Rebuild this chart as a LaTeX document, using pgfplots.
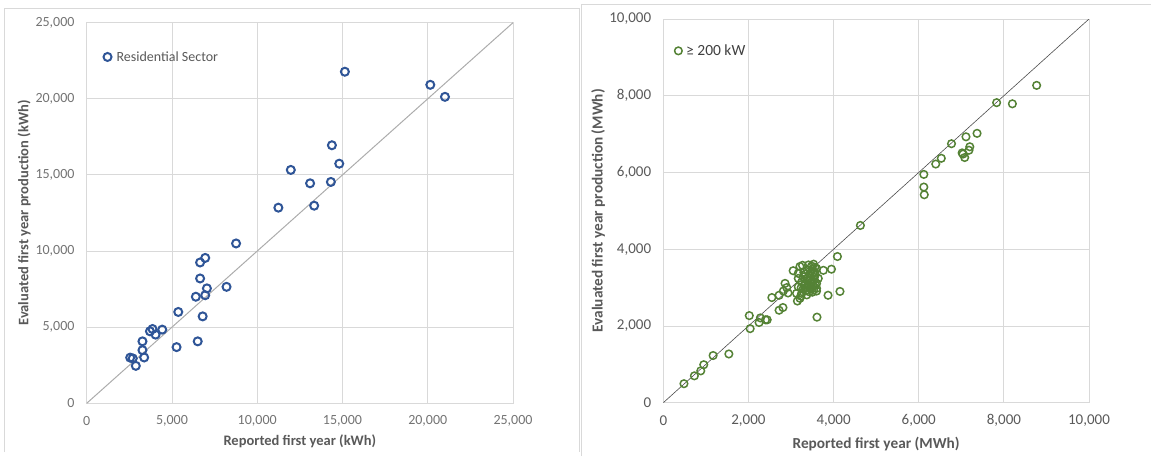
\documentclass[border=0pt]{standalone}
\usepackage{fontspec}
\setmainfont{Carlito}
\usepackage{pgfplots}
\pgfplotsset{compat=1.18}
\definecolor{resblue}{HTML}{2F5597}
\definecolor{biggreen}{HTML}{548235}
\definecolor{gridgray}{HTML}{D9D9D9}
\definecolor{txtgray}{HTML}{595959}
\definecolor{legtxt}{HTML}{404040}
\definecolor{framegray}{HTML}{D9D9D9}

\pgfplotstableread{
x y
2550 3000
2700 2950
2880 2460
3270 4070
3270 3490
3370 3010
3710 4730
3860 4880
4040 4510
4430 4840
5270 3690
5370 6000
6400 7000
6510 4070
6650 9250
6650 8200
6800 5710
6950 9550
6950 7100
7050 7550
8200 7650
8760 10500
11240 12850
11970 15330
13100 14450
13340 12980
14320 14540
14380 16950
14810 15740
15140 21780
20150 20920
21010 20130
}\residential

\pgfplotstableread{
x y
485 495
730 700
880 830
950 990
1170 1230
1540 1270
2020 2270
2040 1930
2250 2090
2280 2210
2400 2160
2440 2160
2550 2740
2720 2410
2810 2480
2720 2800
2820 2910
2860 3110
2900 3000
2930 2860
3050 3440
3150 2650
3270 3580
3610 2230
3870 2800
3760 3450
3950 3480
4090 3810
4150 2900
4630 4620
3210 3550
3410 3590
3530 3610
3600 3500
3170 3370
3170 3240
3290 3280
3450 3370
3570 3330
3640 3240
3330 3110
3490 3150
3600 3110
3170 3020
3290 2980
3450 2980
3600 2980
3130 2850
3250 2850
3370 2810
3530 2940
3600 2910
3210 2720
3300 3400
3380 3460
3500 3480
3550 3200
3400 3250
3250 3150
3420 3050
3520 3050
3350 2920
3240 3000
3480 3560
3560 3400
3230 2780
3500 2880
3340 3350
3460 3290
3520 3380
3380 3180
3460 3120
3540 3270
3310 3050
3480 3010
3580 3060
3360 2990
3430 2890
3560 3530
6120 5950
6120 5620
6130 5420
6400 6220
6530 6370
6770 6750
7020 6510
7040 6480
7080 6390
7110 6930
7180 6580
7200 6670
7370 7020
7830 7820
8200 7790
8770 8270
}\large

\pgfplotsset{
  myaxis/.style={
    scale only axis,
    anchor=south west,
    xmin=0, ymin=0,
    grid=major,
    grid style={gridgray, line width=0.9pt},
    axis line style={gridgray, line width=0.9pt},
    major tick length=0pt,
    tick style={draw=none},
    scaled ticks=false,
    /pgf/number format/1000 sep={,},
    /pgf/number format/assume math mode=true,
    tick label style={font=\fontsize{14}{16}\selectfont, text=txtgray},
    yticklabel style={anchor=east, inner sep=0pt, xshift=-12pt},
    xticklabel style={anchor=center, inner sep=0pt, yshift=-18pt},
    legend style={draw=none, fill=none, inner sep=0pt, anchor=west,
      /tikz/every even column/.append style={column sep=0pt}},
    legend image code/.code={\draw[#1] plot coordinates {(4.5pt,0pt)};},
    legend cell align=left,
  }
}

\begin{document}
\begin{tikzpicture}[x=1pt,y=1pt]
\path[use as bounding box] (0,0) rectangle (1151,456);
\draw[framegray, line width=0.9pt] (4,4) -- (4,448) -- (579,448) -- (579,4);
\draw[framegray, line width=0.9pt] (581,0) -- (581,452) -- (1151,452);

\begin{axis}[myaxis,
  at={(86.7pt,52.7pt)}, width=426.3pt, height=380.6pt,
  xmax=25000, ymax=25000,
  xtick={0,5000,10000,15000,20000,25000},
  ytick={0,5000,10000,15000,20000,25000},
  tick label style={text=black!55},
  xlabel={Reported first year (kWh)},
  ylabel={Evaluated first year production (kWh)},
  every axis x label/.style={at={(axis description cs:0.5,-0.101)}, anchor=center,
     font=\bfseries\fontsize{14.5}{16}\selectfont, text=txtgray},
  every axis y label/.style={at={(axis description cs:-0.147,0.5)}, rotate=90, anchor=center,
     font=\bfseries\fontsize{14.5}{16}\selectfont, text=txtgray},
  legend style={at={(axis description cs:0.039,0.91)}, font=\fontsize{14}{16}\selectfont, text=txtgray},
]
\addplot[only marks, mark=o, mark size=4pt, mark options={draw=resblue, line width=2pt}] table[x=x,y=y] {\residential};
\addlegendentry{\hspace{3pt}Residential Sector}
\addplot[gray!65, line width=1pt, forget plot] coordinates {(0,0) (25000,25000)};
\end{axis}

\begin{axis}[myaxis,
  at={(663.3pt,53.3pt)}, width=425.7pt, height=383.7pt,
  xmax=10000, ymax=10000,
  xtick={0,2000,4000,6000,8000,10000},
  ytick={0,2000,4000,6000,8000,10000},
  tick label style={font=\fontsize{15}{17}\selectfont},
  xlabel={Reported first year (MWh)},
  ylabel={Evaluated first year production (MWh)},
  every axis x label/.style={at={(axis description cs:0.5,-0.108)}, anchor=center,
     font=\bfseries\fontsize{15.3}{17}\selectfont, text=txtgray},
  every axis y label/.style={at={(axis description cs:-0.153,0.5)}, rotate=90, anchor=center,
     font=\bfseries\fontsize{15.3}{17}\selectfont, text=txtgray},
  legend style={at={(axis description cs:0.026,0.917)}, font=\fontsize{15.5}{17}\selectfont, text=legtxt},
]
\addplot[only marks, mark=o, mark size=3.8pt, mark options={draw=biggreen, line width=1.5pt}] table[x=x,y=y] {\large};
\addlegendentry{\hspace{2pt}≥ 200 kW}
\addplot[black!70, line width=0.6pt, forget plot] coordinates {(0,0) (10000,10000)};
\end{axis}
\end{tikzpicture}
\end{document}
